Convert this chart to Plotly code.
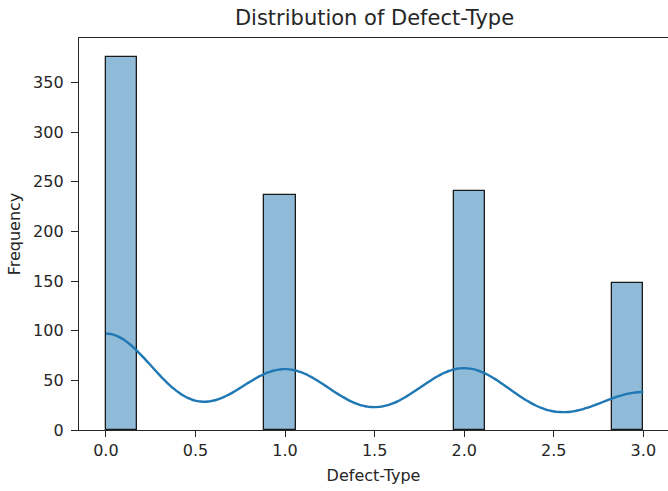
import numpy as np
import plotly.graph_objects as go

# Data
defect_types = [0, 1, 2, 3]
counts = [376, 237, 241, 148]
x_ticks = [0.0, 0.5, 1.0, 1.5, 2.0, 2.5, 3.0]
x_tick_labels = ["0.0", "0.5", "1.0", "1.5", "2.0", "2.5", "3.0"]
y_ticks = [0, 50, 100, 150, 200, 250, 300, 350]
n_bins = 17

vals = np.array(defect_types, dtype=float)
cnts = np.array(counts, dtype=float)
lo, hi = vals.min(), vals.max()
binw = (hi - lo) / n_bins
idx = np.minimum(np.floor((vals - lo) / binw), n_bins - 1)
centers = lo + (idx + 0.5) * binw

# KDE (gaussian, Scott bandwidth) from the observations, scaled to counts
data = np.repeat(vals, cnts.astype(int))
n = data.size
bw = data.std(ddof=1) * n ** (-1 / 5)
grid = np.linspace(lo, hi, 200)
dens = np.zeros_like(grid)
for v, c in zip(vals, cnts):
    dens += c * np.exp(-0.5 * ((grid - v) / bw) ** 2)
dens /= n * bw * np.sqrt(2 * np.pi)
kde_y = dens * n * binw

fig = go.Figure()
fig.add_trace(go.Bar(
    x=centers, y=cnts, width=binw,
    marker=dict(color="rgba(31,119,180,0.5)", line=dict(color="#1a1a1a", width=1.3)),
    showlegend=False, hoverinfo="x+y",
))
fig.add_trace(go.Scatter(
    x=grid, y=kde_y, mode="lines",
    line=dict(color="#1f77b4", width=2.4, shape="spline"), showlegend=False,
))

font = "DejaVu Sans"
fig.update_layout(
    width=668, height=491,
    margin=dict(l=79, r=0, t=38, b=61),
    paper_bgcolor="white", plot_bgcolor="white",
    font=dict(family=font, size=16, color="#262626"),
    title=dict(text="Distribution of Defect-Type", x=(79 + 670) / 2 / 668, xanchor="center",
               y=1 - 18 / 491, yanchor="middle", font=dict(family=font, size=21, color="#262626")),
    bargap=0,
)
fig.update_xaxes(
    range=[-0.15, 3.1377], tickvals=x_ticks, ticktext=x_tick_labels,
    showgrid=False, zeroline=False, showline=True, mirror=True, linecolor="#262626", linewidth=1.3,
    ticks="outside", ticklen=6, tickwidth=1.3, tickcolor="#262626",
    tickfont=dict(size=16), title=dict(text="Defect-Type", font=dict(size=16), standoff=10),
)
fig.update_yaxes(
    range=[0, 394.8], tickvals=y_ticks,
    showgrid=False, zeroline=False, showline=True, mirror=True, linecolor="#262626", linewidth=1.3,
    ticks="outside", ticklen=7, tickwidth=1.3, tickcolor="#262626", ticklabelstandoff=4,
    tickfont=dict(size=16), title=dict(text="Frequency", font=dict(size=16), standoff=8),
)

fig.write_html("out.html")
